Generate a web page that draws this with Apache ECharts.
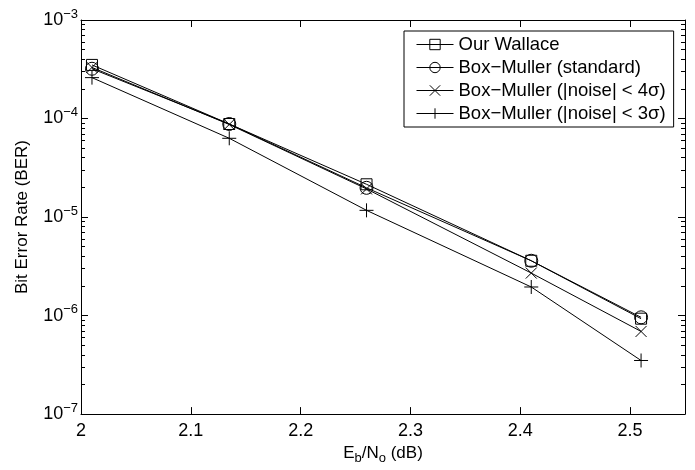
<!DOCTYPE html>
<html>
<head>
<meta charset="utf-8">
<script src="https://cdn.jsdelivr.net/npm/echarts@6/dist/echarts.min.js"></script>
<style>
html,body{margin:0;padding:0;background:#fff;}
#chart{width:695px;height:470px;}
</style>
</head>
<body>
<div id="chart"></div>
<script>
// ---- data ----
const ebno = [2.01, 2.135, 2.26, 2.41, 2.51];
const ourWallace = [3.5e-4, 8.8e-5, 2.15e-5, 3.6e-6, 9.3e-7];
const bmStandard = [3.2e-4, 8.8e-5, 1.98e-5, 3.6e-6, 9.6e-7];
const bm4sigma = [3.3e-4, 8.7e-5, 1.93e-5, 2.7e-6, 6.9e-7];
const bm3sigma = [2.6e-4, 6.3e-5, 1.17e-5, 1.95e-6, 3.5e-7];
const seriesNames = ['Our Wallace', 'Box\u2212Muller (standard)', 'Box\u2212Muller (|noise| < 4\u03c3)', 'Box\u2212Muller (|noise| < 3\u03c3)'];
const xTicks = [2, 2.1, 2.2, 2.3, 2.4, 2.5];

const FONT = '"Liberation Sans", Arial, Helvetica, sans-serif';
const GRID = {left: 81, right: 10, top: 20, bottom: 53};

function pairs(ys){ return ebno.map((x,i)=>[x, ys[i]]); }

const crossPath = 'path://M0,0L10,10M10,0L0,10';
const plusPath = 'path://M5,0L5,10M0,5L10,5';

function mkSeries(name, data, symbol, size){
  return {
    name: name, type: 'line', data: pairs(data),
    symbol: symbol, symbolSize: size, showAllSymbol: true,
    lineStyle: {color: '#000', width: 1},
    itemStyle: {color: 'none', borderColor: '#000', borderWidth: 1},
    emphasis: {disabled: true},
    animation: false, z: 3
  };
}
function axisLineOpt(){ return {show: true, onZero: false, lineStyle: {color: '#000', width: 1}}; }
function majorTickOpt(extra){ return Object.assign({show: true, inside: true, length: 7, lineStyle: {color: '#000', width: 1}}, extra || {}); }
function minorTickOpt(){ return {show: true, splitNumber: 9, length: 4, lineStyle: {color: '#000', width: 1}}; }

const chart = echarts.init(document.getElementById('chart'), null, {renderer: 'canvas'});
const option = {
  backgroundColor: '#fff',
  animation: false,
  textStyle: {fontFamily: FONT},
  grid: GRID,
  legend: {
    left: 404, top: 31,
    orient: 'vertical',
    padding: [4, 8, 4, 12],
    itemGap: 4,
    itemWidth: 37, itemHeight: 13,
    backgroundColor: '#fff',
    borderColor: '#000', borderWidth: 1, borderRadius: 0,
    lineStyle: {width: 1, color: '#000'},
    itemStyle: {borderWidth: 1, borderColor: '#000', color: 'none'},
    textStyle: {fontFamily: FONT, fontSize: 18.5, color: '#000', lineHeight: 19},
    data: seriesNames
  },
  xAxis: [{
    type: 'value', min: 2, max: 2.55, interval: 0.1, position: 'bottom',
    axisLine: axisLineOpt(),
    axisTick: majorTickOpt({customValues: xTicks}),
    axisLabel: {fontFamily: FONT, fontSize: 18, color: '#000', margin: 8,
      customValues: xTicks, formatter: v => String(v)},
    splitLine: {show: false},
    name: '{n|E}{sb|b}{n|/N}{sb|o}{n| (dB)}',
    nameLocation: 'middle', nameGap: 25,
    nameTextStyle: {rich: {
      n: {fontFamily: FONT, fontSize: 17, color: '#000'},
      sb: {fontFamily: FONT, fontSize: 13, color: '#000', padding: [10,0,0,0]}
    }}
  }, {
    type: 'value', min: 2, max: 2.55, interval: 0.1, position: 'top',
    axisLine: axisLineOpt(),
    axisTick: majorTickOpt({customValues: xTicks}),
    axisLabel: {show: false},
    splitLine: {show: false}
  }],
  yAxis: [{
    type: 'log', logBase: 10, min: 1e-7, max: 1e-3, position: 'left',
    axisLine: axisLineOpt(),
    axisTick: majorTickOpt(),
    minorTick: minorTickOpt(),
    minorSplitLine: {show: false},
    axisLabel: {fontFamily: FONT, margin: 3, color: '#000',
      formatter: function(v){
        const e = Math.round(Math.log10(v));
        return '{b|10}{s|' + (e < 0 ? '\u2212' + (-e) : e) + '}';
      },
      rich: {
        b: {fontFamily: FONT, fontSize: 18, color: '#000'},
        s: {fontFamily: FONT, fontSize: 13, color: '#000', padding: [0,0,12,0]}
      }
    },
    splitLine: {show: false},
    name: 'Bit Error Rate (BER)',
    nameLocation: 'middle', nameGap: 50,
    nameTextStyle: {fontFamily: FONT, fontSize: 17, color: '#000'}
  }, {
    type: 'log', logBase: 10, min: 1e-7, max: 1e-3, position: 'right',
    axisLine: axisLineOpt(),
    axisTick: majorTickOpt(),
    minorTick: minorTickOpt(),
    minorSplitLine: {show: false},
    axisLabel: {show: false},
    splitLine: {show: false}
  }],
  series: [
    mkSeries(seriesNames[0], ourWallace, 'rect', 11),
    mkSeries(seriesNames[1], bmStandard, 'circle', 13),
    mkSeries(seriesNames[2], bm4sigma, crossPath, 11),
    mkSeries(seriesNames[3], bm3sigma, plusPath, 14)
  ]
};
chart.setOption(option);
</script>
</body>
</html>
